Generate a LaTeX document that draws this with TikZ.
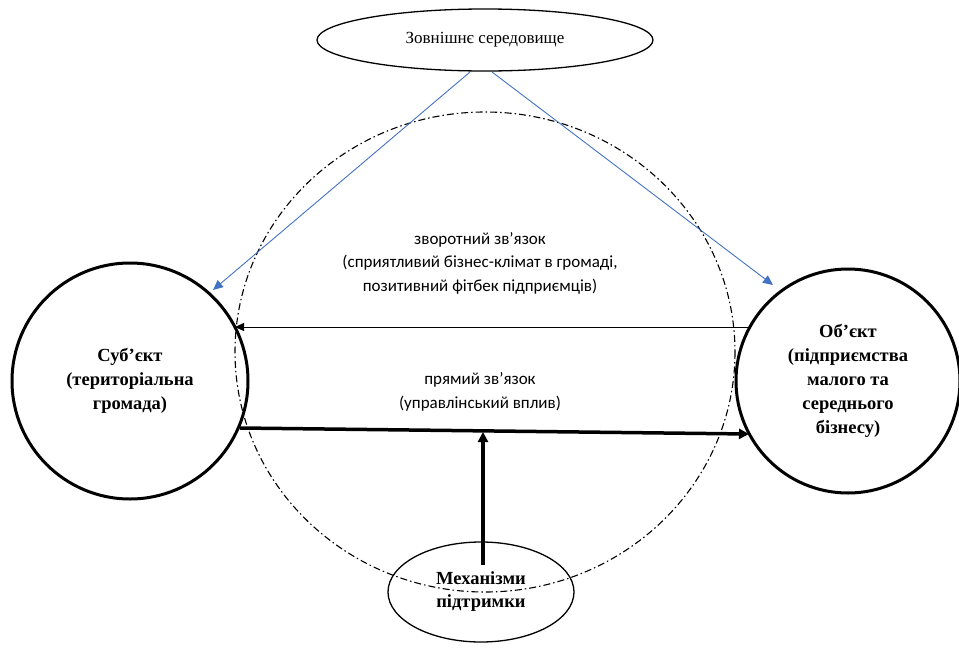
\documentclass[tikz,border=0pt]{standalone}
\usepackage{fontspec}
\setmainfont{Liberation Serif}
\newfontfamily\calfont{Carlito}
\usetikzlibrary{shapes.geometric,arrows.meta}
\definecolor{bluearr}{RGB}{68,114,196}
\tikzset{
  x=1pt,y=-1pt,
  bigcircle/.style={circle,draw,line width=3pt,minimum size=#1,inner sep=0pt,align=center,font=\fontsize{18.5}{24}\selectfont\bfseries},
  ovalnode/.style={ellipse,draw,line width=1.3pt,inner sep=0pt,align=center},
  bluearrow/.style={draw=bluearr,line width=0.9pt,-{Triangle[length=10pt,width=9pt]}},
  thinarrow/.style={draw,line width=1pt,-{Triangle[length=9pt,width=8pt]}},
  thickarrow/.style={draw,line width=3.5pt,-{Triangle[length=10pt,width=10pt]}},
  labeltext/.style={align=center,font=\calfont\fontsize{17}{23.5}\selectfont},
  dashdot/.style={draw,line width=1.1pt,dash pattern=on 7pt off 3pt on 1.5pt off 3pt}
}
\begin{document}
\begin{tikzpicture}
\useasboundingbox (0,0) rectangle (959,648);
% dash-dot circle
\draw[dashdot] (485,352) ellipse [x radius=250, y radius=240];
% top ellipse
\node[ovalnode,minimum width=336,minimum height=62,font=\fontsize{17}{20}\selectfont] (env) at (485,40) {Зовнішнє середовище};
% subject and object
\node[bigcircle=236] (subj) at (130,381) {Суб’єкт\\(територіальна\\громада)};
\node[bigcircle=224] (obj) at (848,381) {Об’єкт\\(підприємства\\малого та\\середнього\\бізнесу)};
% bottom ellipse
\node[ovalnode,minimum width=186,minimum height=100,font=\fontsize{18.5}{22}\selectfont\bfseries] (mech) at (481,592) {\raisebox{-3pt}{\begin{tabular}{@{}c@{}}Механізми\\[1pt]підтримки\end{tabular}}};
% coordinates
\coordinate (eL) at (470,72);
\coordinate (eR) at (492,72);
\coordinate (sT) at (213,290);
\coordinate (oT) at (773,285);
\coordinate (fbS) at (748,327);
\coordinate (fbE) at (235,327);
\coordinate (dS) at (240,428);
\coordinate (dE) at (749,434);
\coordinate (mS) at (483,565);
\coordinate (mE) at (483,432);
% blue arrows
\draw[bluearrow] (eL) -- (sT);
\draw[bluearrow] (eR) -- (oT);
% feedback
\draw[thinarrow] (fbS) -- (fbE);
% direct
\draw[thickarrow] (dS) -- (dE);
\draw[thickarrow] (mS) -- (mE);
% labels
\node[labeltext] (fbtext) at (480,263) {зворотний зв’язок\\(сприятливий бізнес-клімат в громаді,\\позитивний фітбек підприємців)};
\node[labeltext] (dtext) at (480,392) {прямий зв’язок\\(управлінський вплив)};
\end{tikzpicture}
\end{document}
